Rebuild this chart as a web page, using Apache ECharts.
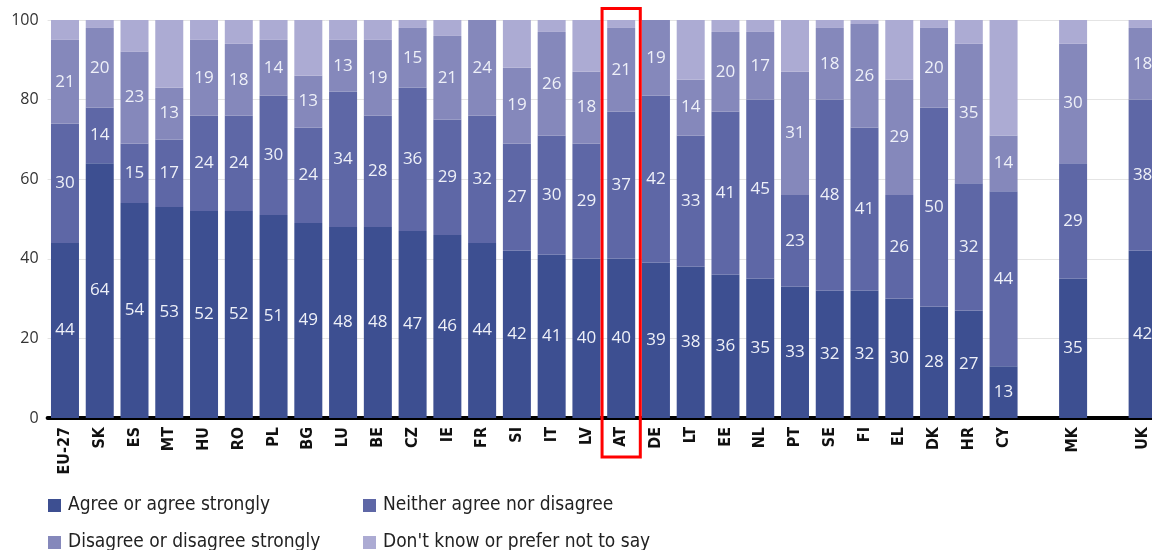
<!DOCTYPE html>
<html>
<head>
<meta charset="utf-8">
<style>
  html, body { margin: 0; padding: 0; background: #ffffff; overflow: hidden; }
  /* the plot runs slightly past the right edge of the window */
  #chart { width: 1160px; height: 550px; }
</style>
<script src="https://cdn.jsdelivr.net/npm/echarts@6/dist/echarts.min.js"></script>
</head>
<body>
<div id="chart"></div>
<script>
// Countries (blank slots separate the non-EU-27 entries)
const categories = ['EU-27','SK','ES','MT','HU','RO','PL','BG','LU','BE','CZ','IE','FR','SI','IT','LV','AT','DE','LT','EE','NL','PT','SE','FI','EL','DK','HR','CY','','MK','','UK'];

// Shares of respondents, %
const agree    = [44,64,54,53,52,52,51,49,48,48,47,46,44,42,41,40,40,39,38,36,35,33,32,32,30,28,27,13,null,35,null,42];
const neither  = [30,14,15,17,24,24,30,24,34,28,36,29,32,27,30,29,37,42,33,41,45,23,48,41,26,50,32,44,null,29,null,38];
const disagree = [21,20,23,13,19,18,14,13,13,19,15,21,24,19,26,18,21,19,14,20,17,31,18,26,29,20,35,14,null,30,null,18];
const dontKnow = [5,2,8,17,5,6,5,14,5,5,2,4,0,12,3,13,2,0,15,3,3,13,2,1,15,2,6,29,null,6,null,2];

const seriesNames = ['Agree or agree strongly','Neither agree nor disagree','Disagree or disagree strongly',"Don't know or prefer not to say"];
const yTicks = [0, 20, 40, 60, 80, 100];
const highlighted = 'AT';

const colors = ['#3d4f91', '#5e67a6', '#8588bb', '#acabd3'];
const font = '"Open Sans", "Noto Sans", sans-serif';
const narrowFont = '"DejaVu Sans Condensed", "Liberation Sans Narrow", "Open Sans", sans-serif';

const chart = echarts.init(document.getElementById('chart'), null, { renderer: 'canvas' });

function makeSeries(name, data, color, withLabel) {
  return {
    name: name,
    type: 'bar',
    stack: 'total',
    data: data,
    barWidth: 28,
    itemStyle: { color: color },
    label: {
      show: withLabel,
      position: 'inside',
      color: '#eef0f8',
      fontFamily: font,
      fontSize: 17,
      formatter: p => (p.value == null ? '' : String(p.value))
    },
    emphasis: { disabled: true }
  };
}

// One legend box per entry, laid out as two columns of two rows
function legendEntry(name, left, top) {
  return {
    left: left, top: top, orient: 'horizontal',
    data: [name],
    icon: 'rect', itemWidth: 13, itemHeight: 13,
    textStyle: { fontFamily: narrowFont, fontSize: 19, color: '#222', padding: [0, 0, 0, 2] }
  };
}

chart.setOption({
  animation: false,
  color: colors,
  grid: { left: 47.6, right: 0, top: 20, bottom: 132, containLabel: false },
  xAxis: {
    type: 'category',
    data: categories,
    axisTick: { show: false },
    axisLine: { lineStyle: { color: '#000', width: 4 } },
    axisLabel: {
      interval: 0,
      rotate: 90,
      margin: 9,
      fontFamily: narrowFont,
      fontWeight: 'bold',
      fontSize: 16,
      color: '#111'
    }
  },
  yAxis: {
    type: 'value',
    min: yTicks[0],
    max: yTicks[yTicks.length - 1],
    interval: 20,
    axisLine: { show: false },
    axisTick: { show: false },
    axisLabel: { fontFamily: font, fontSize: 16, color: '#333', margin: 9 },
    splitLine: { lineStyle: { color: '#e4e4e4', width: 1 } }
  },
  legend: [
    legendEntry(seriesNames[0], 43, 491),
    legendEntry(seriesNames[1], 358, 491),
    legendEntry(seriesNames[2], 43, 528),
    legendEntry(seriesNames[3], 358, 528)
  ],
  series: [
    makeSeries(seriesNames[0], agree, colors[0], true),
    makeSeries(seriesNames[1], neither, colors[1], true),
    makeSeries(seriesNames[2], disagree, colors[2], true),
    makeSeries(seriesNames[3], dontKnow, colors[3], false)
  ]
});

// Red frame around the highlighted country, placed through the axes
const cx = chart.convertToPixel({ xAxisIndex: 0 }, highlighted);
const slot = chart.convertToPixel({ xAxisIndex: 0 }, categories[1]) - chart.convertToPixel({ xAxisIndex: 0 }, categories[0]);
const yTop = chart.convertToPixel({ yAxisIndex: 0 }, 100);
const yBase = chart.convertToPixel({ yAxisIndex: 0 }, 0);
const halfW = slot * 0.55;
chart.setOption({
  graphic: [{
    type: 'rect',
    z: 100,
    shape: { x: cx - halfW, y: yTop - 11.5, width: halfW * 2, height: (yBase + 39) - (yTop - 11.5) },
    style: { fill: 'none', stroke: '#ff0000', lineWidth: 3 }
  }]
});
</script>
</body>
</html>
